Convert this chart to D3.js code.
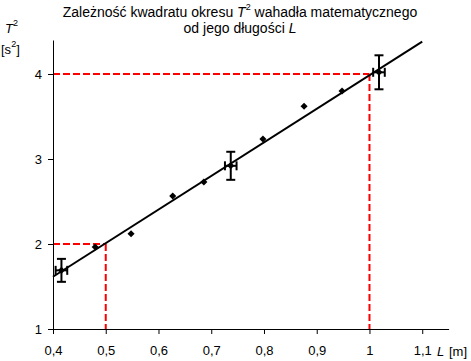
<!DOCTYPE html>
<html>
<head>
<meta charset="utf-8">
<script src="https://cdn.jsdelivr.net/npm/d3@7"></script>
<style>
  html, body { margin: 0; padding: 0; background: #fff; }
  svg { display: block; font-family: "Liberation Sans", Arial, sans-serif; }
</style>
</head>
<body>
<svg id="chart" width="471" height="361"></svg>
<script>
// ---- data ----
const lengths = [0.416, 0.48, 0.548, 0.627, 0.686, 0.737, 0.798, 0.876, 0.948, 1.018];
const periodSq = [1.69, 1.965, 2.12, 2.565, 2.73, 2.92, 3.235, 3.62, 3.8, 4.02];
const errIndex = [0, 5, 9];
const errT2 = [0.135, 0.165, 0.2];
const errL = [0.011, 0.011, 0.011];
const fitL = [0.4, 1.1];
const fitT2 = [1.615, 4.38];
const readT2 = [2, 4];
const readL = [0.5, 1.0];
const xTicks = [0.4, 0.5, 0.6, 0.7, 0.8, 0.9, 1.0, 1.1];
const yTicks = [1, 2, 3, 4];

const svg = d3.select("#chart");
const x = d3.scaleLinear().domain([0.4, 1.15]).range([53, 448.6]);
const y = d3.scaleLinear().domain([1, 4.4]).range([329, 40]);

// reading lines (red dashed)
readT2.forEach((t, i) => {
  const g = svg.append("g").attr("fill", "none").attr("stroke", "#ff0000")
    .attr("stroke-width", 2).attr("stroke-dasharray", "7,3");
  g.append("line").attr("x1", x(0.4)).attr("x2", x(readL[i]))
    .attr("y1", y(t)).attr("y2", y(t));
  g.append("line").attr("x1", x(readL[i])).attr("x2", x(readL[i]))
    .attr("y1", y(t)).attr("y2", y(1));
});

// axes
const fmt = d => String(d).replace(".", ",");
const xAxis = svg.append("g").attr("transform", `translate(0,${y(1)})`)
  .call(d3.axisBottom(x).tickValues(xTicks).tickFormat(fmt).tickSize(5).tickSizeOuter(0).tickPadding(12));
const yAxis = svg.append("g").attr("transform", `translate(${x(0.4)},0)`)
  .call(d3.axisLeft(y).tickValues(yTicks).tickFormat(fmt).tickSize(5).tickSizeOuter(0).tickPadding(6));
[xAxis, yAxis].forEach(a => {
  a.selectAll("text").attr("font-size", 13).attr("font-family", "Liberation Sans, Arial, sans-serif").attr("fill", "#000");
  a.selectAll("line,path").attr("stroke", "#000").attr("stroke-width", 1);
});

// fit line
svg.append("line")
  .attr("x1", x(fitL[0])).attr("y1", y(fitT2[0]))
  .attr("x2", x(fitL[1])).attr("y2", y(fitT2[1]))
  .attr("stroke", "#000").attr("stroke-width", 2);

// error bars
const cap = 4.5;
errIndex.forEach((idx, k) => {
  const cx = x(lengths[idx]), cy = y(periodSq[idx]);
  const g = svg.append("g").attr("stroke", "#000").attr("stroke-width", 2);
  const yt = y(periodSq[idx] + errT2[k]), yb = y(periodSq[idx] - errT2[k]);
  const xl = x(lengths[idx] - errL[k]), xr = x(lengths[idx] + errL[k]);
  g.append("line").attr("x1", cx).attr("x2", cx).attr("y1", yt).attr("y2", yb);
  g.append("line").attr("x1", cx - cap).attr("x2", cx + cap).attr("y1", yt).attr("y2", yt);
  g.append("line").attr("x1", cx - cap).attr("x2", cx + cap).attr("y1", yb).attr("y2", yb);
  g.append("line").attr("x1", xl).attr("x2", xr).attr("y1", cy).attr("y2", cy);
  g.append("line").attr("x1", xl).attr("x2", xl).attr("y1", cy - cap).attr("y2", cy + cap);
  g.append("line").attr("x1", xr).attr("x2", xr).attr("y1", cy - cap).attr("y2", cy + cap);
});

// points (diamonds)
svg.append("g").selectAll("path").data(lengths).join("path")
  .attr("d", d3.symbol().type(d3.symbolDiamond2).size(32))
  .attr("transform", (d, i) => `translate(${x(d)},${y(periodSq[i])})`)
  .attr("fill", "#000");

// title
const title = svg.append("text").attr("text-anchor", "middle").attr("font-size", 14).attr("fill", "#000");
const l1 = title.append("tspan").attr("x", 240).attr("y", 17);
l1.append("tspan").text("Zależność kwadratu okresu ");
l1.append("tspan").attr("font-style", "italic").text("T");
l1.append("tspan").attr("font-size", 9).attr("dy", -7).text("2");
l1.append("tspan").attr("dy", 7).text(" wahadła matematycznego");
const l2 = title.append("tspan").attr("x", 240).attr("y", 33);
l2.append("tspan").text("od jego długości ");
l2.append("tspan").attr("font-style", "italic").text("L");

// y label
const yl = svg.append("text").attr("x", 5).attr("y", 33).attr("font-size", 13).attr("fill", "#000");
yl.append("tspan").attr("font-style", "italic").text("T");
yl.append("tspan").attr("font-size", 9).attr("dy", -7).text("2");
const yl2 = svg.append("text").attr("x", 1).attr("y", 54).attr("font-size", 13).attr("fill", "#000");
yl2.append("tspan").text("[s");
yl2.append("tspan").attr("font-size", 9).attr("dy", -7).text("2");
yl2.append("tspan").attr("dy", 7).text("]");

// x label
svg.append("text").attr("x", 437).attr("y", 356).attr("font-size", 13)
  .attr("font-style", "italic").attr("fill", "#000").text("L");
svg.append("text").attr("x", 449).attr("y", 356).attr("font-size", 13)
  .attr("fill", "#000").text("[m]");
</script>
</body>
</html>
